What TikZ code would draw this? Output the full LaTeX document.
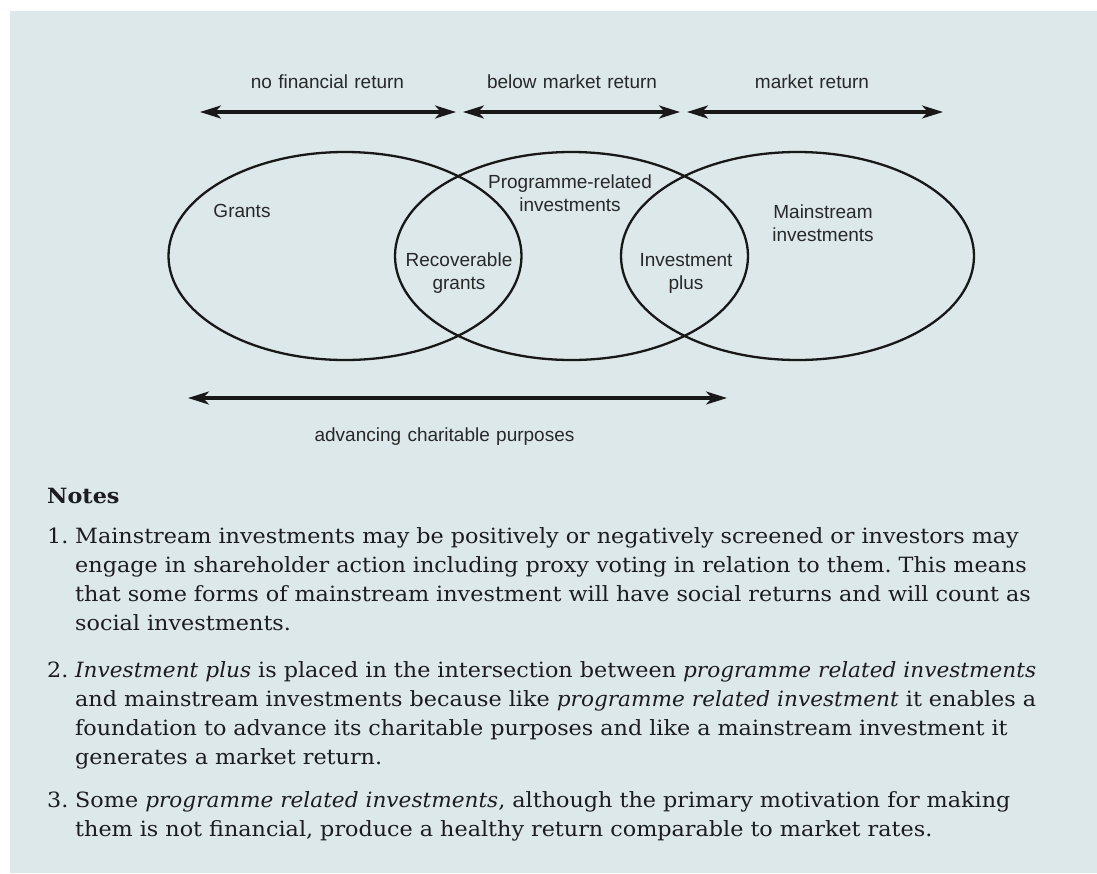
\documentclass[tikz,border=0pt]{standalone}
\usepackage{fontspec}
\setmainfont{DejaVu Serif}[
  UprightFeatures={FakeStretch=1.062},
  BoldFeatures={FakeStretch=1.062},
  ItalicFeatures={FakeStretch=1.03}]
\newfontfamily\labelfont{Liberation Sans}
\usetikzlibrary{shapes.geometric,arrows.meta}
\definecolor{panel}{RGB}{221,232,235}
\definecolor{ink}{RGB}{24,24,24}
\definecolor{labelink}{RGB}{40,40,40}
\definecolor{noteink}{RGB}{28,28,32}

\begin{document}
\frenchspacing
\begin{tikzpicture}[x=1pt,y=-1pt,
  setshape/.style={ellipse,draw=ink,line width=2.3pt,minimum width=353pt,
    minimum height=208pt,inner sep=0pt},
  lab/.style={font=\labelfont\fontsize{19}{23.5}\selectfont,text=labelink,
    inner sep=0pt,anchor=base,align=center,text width=300pt},
  rangearrow/.style={draw=ink,line width=3.2pt,
    {Stealth[length=21pt,width=13pt,inset=6pt]}-{Stealth[length=21pt,width=13pt,inset=6pt]}},
  notebody/.style={font=\fontsize{21}{29.2}\selectfont,text=noteink,
    inner sep=0pt,anchor=base west,align=left,text width=1010pt},
  notenum/.style={font=\fontsize{21}{29.2}\selectfont,text=noteink,
    inner sep=0pt,anchor=base west}
]
% page and panel
\path[use as bounding box] (0,0) rectangle (1097,873);
\fill[white] (0,0) rectangle (1097,873);
\fill[panel] (10,11) rectangle (1097,873);

% return ranges
\coordinate (nfr-l) at (200,112);
\coordinate (nfr-r) at (456,112);
\coordinate (bmr-l) at (463,112);
\coordinate (bmr-r) at (680,112);
\coordinate (mr-l) at (687,112);
\coordinate (mr-r) at (943,112);
\draw[rangearrow] (nfr-l) -- (nfr-r);
\draw[rangearrow] (bmr-l) -- (bmr-r);
\draw[rangearrow] (mr-l) -- (mr-r);
\node[lab] (t-nfr) at (327.5,88) {no financial return};
\node[lab] (t-bmr) at (572,88) {below market return};
\node[lab] (t-mr) at (812,88) {market return};

% the three overlapping sets
\node[setshape] (grants) at (345,256) {};
\node[setshape] (pri) at (571.5,256) {};
\node[setshape] (mainstream) at (797.5,256) {};

\node[lab] (t-grants) at (242,217) {Grants};
\node[lab] (t-pri) at (570,188) {Programme-related\\investments};
\node[lab] (t-main) at (823,218) {Mainstream\\investments};
\node[lab] (t-recov) at (459,266) {Recoverable\\grants};
\node[lab] (t-plus) at (686,266) {Investment\\plus};

% charitable purposes range
\coordinate (acp-l) at (188,398);
\coordinate (acp-r) at (727,398);
\draw[rangearrow] (acp-l) -- (acp-r);
\node[lab] (t-acp) at (444.5,441) {advancing charitable purposes};

% notes
\node[notenum] (notes-head) at (47,503) {\bfseries Notes};
\node[notenum] (n1) at (47,543) {1.};
\node[notebody] (b1) at (75,543) {Mainstream investments may be positively or negatively screened or investors may\\
engage in shareholder action including proxy voting in relation to them. This means\\
that some forms of mainstream investment will have social returns and will count as\\
social investments.};
\node[notenum] (n2) at (47,677) {2.};
\node[notebody] (b2) at (75,677) {\textit{Investment plus} is placed in the intersection between \textit{programme related investments}\\
and mainstream investments because like \textit{programme related investment} it enables a\\
foundation to advance its charitable purposes and like a mainstream investment it\\
generates a market return.};
\node[notenum] (n3) at (47,807) {3.};
\node[notebody] (b3) at (75,807) {Some \textit{programme related investments}, although the primary motivation for making\\
them is not financial, produce a healthy return comparable to market rates.};
\end{tikzpicture}
\end{document}
